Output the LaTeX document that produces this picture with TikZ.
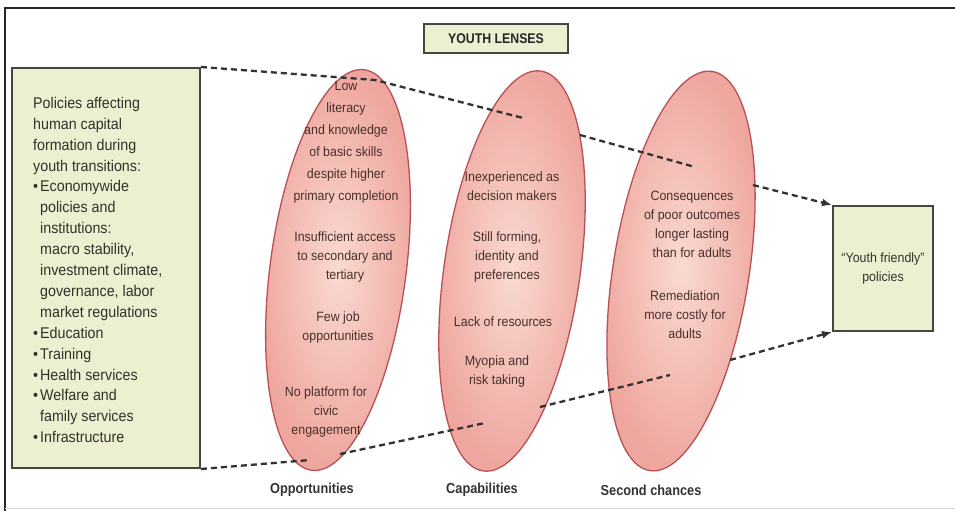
\documentclass[tikz,border=0pt]{standalone}
\usepackage{fontspec}
\setmainfont{Liberation Sans}
\newfontfamily\cond{Liberation Sans}[FakeStretch=0.92]
\newfontfamily\condb{Liberation Sans Bold}[FakeStretch=0.88]
\usetikzlibrary{shapes.geometric,arrows.meta}
\definecolor{boxfill}{RGB}{236,239,208}
\definecolor{boxline}{RGB}{70,70,62}
\definecolor{lensin}{RGB}{250,218,210}
\definecolor{lensout}{RGB}{238,166,158}
\definecolor{lensline}{RGB}{185,80,88}
\definecolor{raycol}{RGB}{50,50,50}
\definecolor{txtbox}{RGB}{50,50,44}
\definecolor{txtlens}{RGB}{72,48,42}
\newcommand{\bul}{\makebox[7pt][l]{\textbullet}}
\newcommand{\ind}{\hspace*{7pt}}
\begin{document}
\begin{tikzpicture}[x=1pt,y=-1pt,
  policybox/.style={draw=boxline, fill=boxfill, line width=2pt, inner sep=0},
  lens/.style={ellipse, draw=lensline, line width=1.3pt, inner sep=0,
    minimum width=136pt, minimum height=404pt,
    shade, inner color=lensin, outer color=lensout},
  ray/.style={draw=raycol, line width=2.3pt, dash pattern=on 6pt off 4pt},
  tip/.style={-{Latex[length=10pt,width=8pt]}},
  boxtext/.style={font=\cond\fontsize{15.5}{20.9}\selectfont, text=txtbox, align=left, inner sep=0},
  lenstext/.style={font=\cond\fontsize{13.5}{19}\selectfont, text=txtlens, align=center, inner sep=0},
  lenslabel/.style={font=\condb\fontsize{14.5}{16}\selectfont, text=black!80, inner sep=0}
]
\useasboundingbox (0,0) rectangle (955,511);
\fill[white] (0,0) rectangle (955,511);
% outer frame
\draw[black!85, line width=1.6pt] (955,8) -- (5,8) -- (5,511);
\draw[black!15, line width=0.8pt] (5,508) -- (955,508);

% title
\node[policybox, minimum width=144pt, minimum height=29pt, line width=1.8pt,
  font=\condb\fontsize{14}{16}\selectfont, text=black!85] (title) at (496,38.5) {YOUTH LENSES};

% boxes
\node[policybox, minimum width=188pt, minimum height=400pt] (lb) at (106,268) {};
\node[policybox, minimum width=100pt, minimum height=125pt] (rb) at (883,268.5) {};

% lenses
\node[lens, rotate=-7.5] (e1) at (338,270) {};
\node[lens, rotate=-8.2] (e2) at (512,271) {};
\node[lens, rotate=-8.9] (e3) at (681,271) {};

% ray coordinates
\coordinate (t1) at (375,80);
\coordinate (t2) at (523,118);
\coordinate (t3) at (580,135);
\coordinate (t4) at (695,167);
\coordinate (t5) at (753,185);
\coordinate (b1) at (310,460);
\coordinate (b2) at (340,454);
\coordinate (b3) at (485,423);
\coordinate (b4) at (540,407);
\coordinate (b5) at (670,375);
\coordinate (b6) at (730,360);

% rays
\draw[ray] (lb.north east) -- (t1) -- (t2);
\draw[ray] (t3) -- (t4);
\draw[ray, tip] (t5) -- (rb.north west);
\draw[ray] (lb.south east) -- (b1);
\draw[ray] (b2) -- (b3);
\draw[ray] (b4) -- (b5);
\draw[ray, tip] (b6) -- (rb.south west);

% left box text
\node[boxtext, anchor=west] (lbt) at (33,270) {Policies affecting\\
human capital\\
formation during\\
youth transitions:\\
\bul Economywide\\
\ind policies and\\
\ind institutions:\\
\ind macro stability,\\
\ind investment climate,\\
\ind governance, labor\\
\ind market regulations\\
\bul Education\\
\bul Training\\
\bul Health services\\
\bul Welfare and\\
\ind family services\\
\bul Infrastructure};

% lens 1 texts
\node[lenstext, font=\cond\fontsize{13.5}{22}\selectfont] (o1) at (346,142) {Low\\literacy\\and knowledge\\of basic skills\\despite higher\\primary completion};
\node[lenstext] (o2) at (345,257) {Insufficient access\\to secondary and\\tertiary};
\node[lenstext] (o3) at (338,328) {Few job\\opportunities};
\node[lenstext] (o4) at (326,412) {No platform for\\civic\\engagement};

% lens 2 texts
\node[lenstext] (c1) at (512,186.5) {Inexperienced as\\decision makers};
\node[lenstext] (c2) at (507,257) {Still forming,\\identity and\\preferences};
\node[lenstext] (c3) at (503,322) {Lack of resources};
\node[lenstext] (c4) at (497,372) {Myopia and\\risk taking};

% lens 3 texts
\node[lenstext] (s1) at (692,224.5) {Consequences\\of poor outcomes\\longer lasting\\than for adults};
\node[lenstext] (s2) at (685,315) {Remediation\\more costly for\\adults};

% right box text
\node[lenstext, text=txtbox] (rbt) at (rb.center) {“Youth friendly”\\policies};

% labels
\node[lenslabel] (l1) at (312,490) {Opportunities};
\node[lenslabel] (l2) at (482,490) {Capabilities};
\node[lenslabel] (l3) at (651,490) {Second chances};
\end{tikzpicture}
\end{document}
